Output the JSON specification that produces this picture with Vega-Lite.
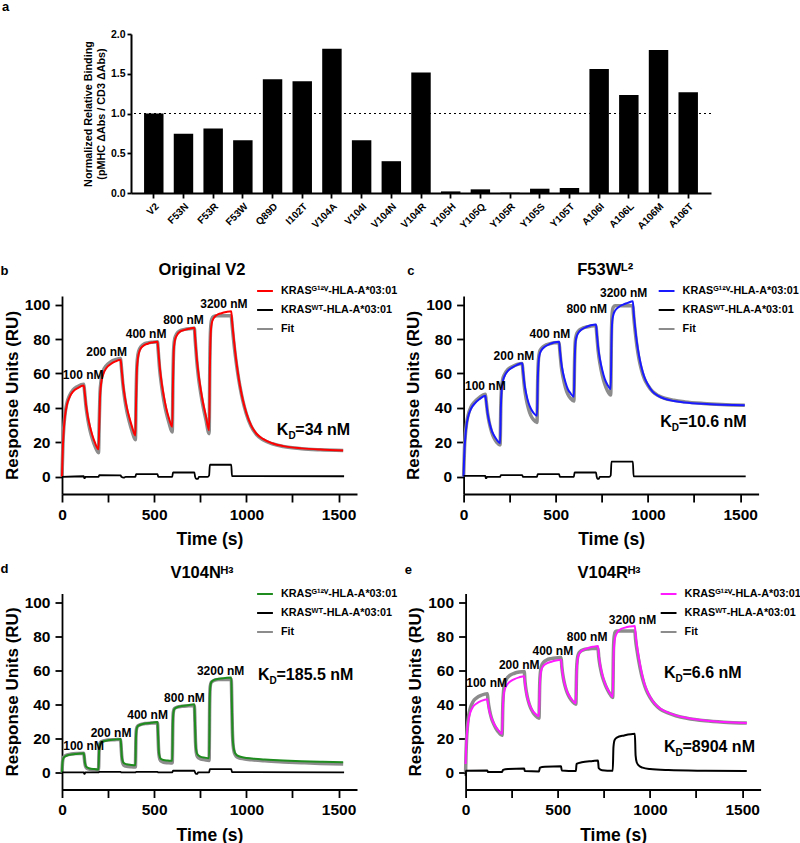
{
"$schema": "https://vega.github.io/schema/vega-lite/v6.json",
"padding": {"left": 0, "top": 1, "right": 0, "bottom": 0},
"background": "white",
"config": {
  "font": "Liberation Sans",
  "view": {"stroke": null},
  "axis": {"grid": false, "domainColor": "black", "domainWidth": 1.8, "tickColor": "black", "tickWidth": 1.8, "labelColor": "black", "titleColor": "black", "labelFontWeight": "bold", "titleFontWeight": "bold", "labelFont": "Liberation Sans", "titleFont": "Liberation Sans", "labelOverlap": false},
  "title": {"font": "Liberation Sans", "color": "black", "fontWeight": "bold", "frame": "group"},
  "text": {"font": "Liberation Sans", "color": "black", "fontWeight": "bold"},
  "legend": {"orient": "none", "legendX": 194, "title": null, "padding": 0, "symbolType": "stroke", "symbolSize": 250, "symbolStrokeWidth": 2, "labelFontSize": 10.8, "labelFontWeight": "bold", "labelColor": "black", "rowPadding": 5, "labelOffset": 7, "labelFont": "Liberation Sans"}
},
"datasets": {
"bars": [
{"m":"V2","v":1.0},{"m":"F53N","v":0.745},{"m":"F53R","v":0.81},{"m":"F53W","v":0.665},{"m":"Q89D","v":1.43},{"m":"I102T","v":1.405},{"m":"V104A","v":1.816},{"m":"V104I","v":0.665},{"m":"V104N","v":0.40},{"m":"V104R","v":1.515},{"m":"Y105H","v":0.02},{"m":"Y105Q","v":0.046},{"m":"Y105R","v":0.004},{"m":"Y105S","v":0.054},{"m":"Y105T","v":0.063},{"m":"A106I","v":1.56},{"m":"A106L","v":1.234},{"m":"A106M","v":1.80},{"m":"A106T","v":1.268}
],
"lab": [
{"p":"b","t":115,"v":59,"txt":"100 nM"},{"p":"b","t":242,"v":72.5,"txt":"200 nM"},{"p":"b","t":456,"v":82.8,"txt":"400 nM"},{"p":"b","t":659,"v":91,"txt":"800 nM"},{"p":"b","t":878,"v":100.6,"txt":"3200 nM"},
{"p":"c","t":118,"v":53,"txt":"100 nM"},{"p":"c","t":273,"v":70,"txt":"200 nM"},{"p":"c","t":468,"v":82.7,"txt":"400 nM"},{"p":"c","t":668,"v":97.7,"txt":"800 nM"},{"p":"c","t":868,"v":106.8,"txt":"3200 nM"},
{"p":"d","t":117,"v":15.6,"txt":"100 nM"},{"p":"d","t":266,"v":23.4,"txt":"200 nM"},{"p":"d","t":464,"v":34,"txt":"400 nM"},{"p":"d","t":664,"v":43.7,"txt":"800 nM"},{"p":"d","t":860,"v":59.4,"txt":"3200 nM"},
{"p":"e","t":114,"v":52.6,"txt":"100 nM"},{"p":"e","t":291,"v":63.2,"txt":"200 nM"},{"p":"e","t":473,"v":71.3,"txt":"400 nM"},{"p":"e","t":659,"v":79.3,"txt":"800 nM"},{"p":"e","t":905,"v":89.7,"txt":"3200 nM"}
],
"let": [
{"p":"b","t":-334,"v":119.8,"txt":"b"},{"p":"c","t":-305,"v":119.8,"txt":"c"},{"p":"d","t":-334,"v":119.1,"txt":"d"},{"p":"e","t":-330,"v":118.8,"txt":"e"}
],
"ttl": [
{"p":"b","t":759,"v":120.1,"txt":"Original V2"},{"p":"c","t":768,"v":120.1,"txt":"F53Wᴸ²"},{"p":"d","t":759,"v":117.3,"txt":"V104Nᴴ³"},{"p":"e","t":778,"v":117.3,"txt":"V104Rᴴ³"}
],
"kd": [
{"p":"b","t":1165,"v":27.1,"val":"=34 nM"},{"p":"c","t":1066,"v":31.8,"val":"=10.6 nM"},{"p":"d","t":1063,"v":57,"val":"=185.5 nM"},{"p":"e","t":1076,"v":58.4,"val":"=6.6 nM"},{"p":"e","t":1076,"v":14.9,"val":"=8904 nM"}
],
"b": [
{"s":"G","t":0,"v":0},{"s":"G","t":2,"v":8},{"s":"G","t":5,"v":18},{"s":"G","t":10,"v":28},{"s":"G","t":16,"v":35},{"s":"G","t":25,"v":41},{"s":"G","t":40,"v":46},{"s":"G","t":60,"v":49.5},{"s":"G","t":85,"v":51.5},{"s":"G","t":118,"v":53},
{"s":"G","t":122,"v":50},{"s":"G","t":130,"v":42},{"s":"G","t":140,"v":35},{"s":"G","t":152,"v":29},{"s":"G","t":165,"v":24},{"s":"G","t":180,"v":19.5},{"s":"G","t":198,"v":16},
{"s":"G","t":202,"v":30},{"s":"G","t":206,"v":46},{"s":"G","t":212,"v":54},{"s":"G","t":222,"v":59},{"s":"G","t":240,"v":63},{"s":"G","t":265,"v":65.5},{"s":"G","t":290,"v":67},{"s":"G","t":318,"v":68},
{"s":"G","t":322,"v":64},{"s":"G","t":330,"v":55},{"s":"G","t":340,"v":47},{"s":"G","t":352,"v":40},{"s":"G","t":365,"v":34.5},{"s":"G","t":380,"v":29},{"s":"G","t":398,"v":24},
{"s":"G","t":402,"v":45},{"s":"G","t":406,"v":62},{"s":"G","t":412,"v":69},{"s":"G","t":422,"v":73.5},{"s":"G","t":440,"v":76},{"s":"G","t":465,"v":77.3},{"s":"G","t":490,"v":78},{"s":"G","t":518,"v":78.5},
{"s":"G","t":522,"v":74},{"s":"G","t":530,"v":64},{"s":"G","t":540,"v":55},{"s":"G","t":552,"v":47},{"s":"G","t":565,"v":40},{"s":"G","t":580,"v":34},{"s":"G","t":598,"v":29},
{"s":"G","t":602,"v":55},{"s":"G","t":606,"v":73},{"s":"G","t":612,"v":79},{"s":"G","t":622,"v":82},{"s":"G","t":640,"v":84.3},{"s":"G","t":665,"v":85.3},{"s":"G","t":690,"v":86},{"s":"G","t":718,"v":86.5},
{"s":"G","t":722,"v":81},{"s":"G","t":730,"v":70},{"s":"G","t":740,"v":60},{"s":"G","t":752,"v":51},{"s":"G","t":765,"v":43},{"s":"G","t":780,"v":35.5},{"s":"G","t":798,"v":27},
{"s":"G","t":802,"v":62},{"s":"G","t":806,"v":82},{"s":"G","t":812,"v":89},{"s":"G","t":822,"v":92},{"s":"G","t":840,"v":94},{"s":"G","t":865,"v":95},{"s":"G","t":890,"v":95.7},{"s":"G","t":918,"v":96.2},
{"s":"G","t":922,"v":91},{"s":"G","t":930,"v":82},{"s":"G","t":940,"v":72},{"s":"G","t":952,"v":62},{"s":"G","t":965,"v":53},{"s":"G","t":980,"v":45},{"s":"G","t":1000,"v":37},{"s":"G","t":1025,"v":30},{"s":"G","t":1055,"v":25},{"s":"G","t":1090,"v":22},{"s":"G","t":1140,"v":19.5},{"s":"G","t":1200,"v":17.8},{"s":"G","t":1300,"v":16.5},{"s":"G","t":1400,"v":15.8},{"s":"G","t":1525,"v":15.3},
{"s":"F","t":0,"v":0},{"s":"F","t":5,"v":19},{"s":"F","t":10,"v":29},{"s":"F","t":16,"v":36},{"s":"F","t":25,"v":42},{"s":"F","t":40,"v":47},{"s":"F","t":60,"v":50.5},{"s":"F","t":85,"v":52.5},{"s":"F","t":118,"v":53.8},
{"s":"F","t":122,"v":50},{"s":"F","t":130,"v":41},{"s":"F","t":140,"v":33.5},{"s":"F","t":152,"v":27},{"s":"F","t":165,"v":22},{"s":"F","t":180,"v":17.5},{"s":"F","t":198,"v":14},
{"s":"F","t":202,"v":32},{"s":"F","t":206,"v":48},{"s":"F","t":212,"v":56},{"s":"F","t":222,"v":61},{"s":"F","t":240,"v":64.5},{"s":"F","t":265,"v":66.8},{"s":"F","t":290,"v":68},{"s":"F","t":318,"v":68.7},
{"s":"F","t":322,"v":64},{"s":"F","t":330,"v":54},{"s":"F","t":340,"v":45.5},{"s":"F","t":352,"v":38},{"s":"F","t":365,"v":32},{"s":"F","t":380,"v":26.5},{"s":"F","t":398,"v":21.5},
{"s":"F","t":402,"v":48},{"s":"F","t":406,"v":64},{"s":"F","t":412,"v":71},{"s":"F","t":422,"v":74.5},{"s":"F","t":440,"v":76.8},{"s":"F","t":465,"v":77.8},{"s":"F","t":490,"v":78.2},{"s":"F","t":518,"v":78.4},
{"s":"F","t":522,"v":73},{"s":"F","t":530,"v":62},{"s":"F","t":540,"v":53},{"s":"F","t":552,"v":44.5},{"s":"F","t":565,"v":37.5},{"s":"F","t":580,"v":31.5},{"s":"F","t":598,"v":26},
{"s":"F","t":602,"v":58},{"s":"F","t":606,"v":75},{"s":"F","t":612,"v":80.5},{"s":"F","t":622,"v":83},{"s":"F","t":640,"v":84.8},{"s":"F","t":665,"v":85.6},{"s":"F","t":690,"v":86},{"s":"F","t":718,"v":86.2},
{"s":"F","t":722,"v":80},{"s":"F","t":730,"v":68.5},{"s":"F","t":740,"v":58},{"s":"F","t":752,"v":49},{"s":"F","t":765,"v":41},{"s":"F","t":780,"v":33.5},{"s":"F","t":798,"v":25},
{"s":"F","t":802,"v":68},{"s":"F","t":806,"v":86},{"s":"F","t":812,"v":91.5},{"s":"F","t":822,"v":93},{"s":"F","t":840,"v":93.5},{"s":"F","t":918,"v":93.5},
{"s":"F","t":922,"v":89},{"s":"F","t":930,"v":80},{"s":"F","t":940,"v":70.5},{"s":"F","t":952,"v":61},{"s":"F","t":965,"v":52.5},{"s":"F","t":980,"v":44.5},{"s":"F","t":1000,"v":36.5},{"s":"F","t":1025,"v":29.5},{"s":"F","t":1055,"v":24.5},{"s":"F","t":1090,"v":21.5},{"s":"F","t":1140,"v":19.2},{"s":"F","t":1200,"v":17.6},{"s":"F","t":1300,"v":16.3},{"s":"F","t":1400,"v":15.7},{"s":"F","t":1525,"v":15.3},
{"s":"W","t":0,"v":0},{"s":"W","t":118,"v":0.3},{"s":"W","t":120,"v":-0.8},{"s":"W","t":124,"v":-0.8},{"s":"W","t":126,"v":0},{"s":"W","t":198,"v":0},{"s":"W","t":202,"v":1},{"s":"W","t":318,"v":0.8},{"s":"W","t":322,"v":0},{"s":"W","t":335,"v":-0.5},{"s":"W","t":345,"v":0},{"s":"W","t":398,"v":0},{"s":"W","t":402,"v":1.5},{"s":"W","t":518,"v":1.5},{"s":"W","t":522,"v":0},{"s":"W","t":598,"v":0},{"s":"W","t":602,"v":2.5},{"s":"W","t":718,"v":2.5},{"s":"W","t":722,"v":0},{"s":"W","t":728,"v":-1.2},{"s":"W","t":738,"v":-1.2},{"s":"W","t":742,"v":0},{"s":"W","t":790,"v":0},{"s":"W","t":798,"v":0.8},{"s":"W","t":802,"v":7},{"s":"W","t":918,"v":7},{"s":"W","t":922,"v":0.4},{"s":"W","t":1530,"v":0.3}
],
"c": [
{"s":"G","t":0,"v":0},{"s":"G","t":2,"v":8},{"s":"G","t":5,"v":16},{"s":"G","t":10,"v":24},{"s":"G","t":16,"v":30},{"s":"G","t":25,"v":35},{"s":"G","t":40,"v":39.5},{"s":"G","t":60,"v":42.5},{"s":"G","t":85,"v":45},{"s":"G","t":118,"v":47},
{"s":"G","t":122,"v":44},{"s":"G","t":130,"v":37},{"s":"G","t":140,"v":31.5},{"s":"G","t":152,"v":27},{"s":"G","t":165,"v":24},{"s":"G","t":180,"v":21.5},{"s":"G","t":198,"v":19.5},
{"s":"G","t":202,"v":40},{"s":"G","t":206,"v":50},{"s":"G","t":212,"v":55},{"s":"G","t":222,"v":58.5},{"s":"G","t":240,"v":61.5},{"s":"G","t":265,"v":63.5},{"s":"G","t":290,"v":65},{"s":"G","t":318,"v":66},
{"s":"G","t":322,"v":62},{"s":"G","t":330,"v":54},{"s":"G","t":340,"v":48},{"s":"G","t":352,"v":43},{"s":"G","t":365,"v":39.5},{"s":"G","t":380,"v":37},{"s":"G","t":398,"v":35.5},
{"s":"G","t":402,"v":55},{"s":"G","t":406,"v":66},{"s":"G","t":412,"v":71},{"s":"G","t":422,"v":73.5},{"s":"G","t":440,"v":75.5},{"s":"G","t":465,"v":77},{"s":"G","t":490,"v":78},{"s":"G","t":518,"v":78.5},
{"s":"G","t":522,"v":74},{"s":"G","t":530,"v":66},{"s":"G","t":540,"v":60},{"s":"G","t":552,"v":55},{"s":"G","t":565,"v":51},{"s":"G","t":580,"v":48.5},{"s":"G","t":598,"v":46.5},
{"s":"G","t":602,"v":65},{"s":"G","t":606,"v":77},{"s":"G","t":612,"v":81},{"s":"G","t":622,"v":83.5},{"s":"G","t":640,"v":85.5},{"s":"G","t":665,"v":87},{"s":"G","t":690,"v":88},{"s":"G","t":718,"v":88.5},
{"s":"G","t":722,"v":84},{"s":"G","t":730,"v":75},{"s":"G","t":740,"v":68},{"s":"G","t":752,"v":62},{"s":"G","t":765,"v":57},{"s":"G","t":780,"v":53.5},{"s":"G","t":798,"v":51},
{"s":"G","t":802,"v":78},{"s":"G","t":806,"v":90},{"s":"G","t":812,"v":94},{"s":"G","t":822,"v":96.5},{"s":"G","t":840,"v":98.5},{"s":"G","t":865,"v":100},{"s":"G","t":890,"v":101},{"s":"G","t":918,"v":102},
{"s":"G","t":922,"v":96},{"s":"G","t":930,"v":87},{"s":"G","t":940,"v":78},{"s":"G","t":952,"v":70},{"s":"G","t":965,"v":63.5},{"s":"G","t":980,"v":58},{"s":"G","t":1000,"v":53.5},{"s":"G","t":1025,"v":49.5},{"s":"G","t":1055,"v":47},{"s":"G","t":1090,"v":45.3},{"s":"G","t":1140,"v":44},{"s":"G","t":1200,"v":43.2},{"s":"G","t":1300,"v":42.4},{"s":"G","t":1400,"v":41.9},{"s":"G","t":1525,"v":41.5},
{"s":"F","t":0,"v":0},{"s":"F","t":5,"v":17},{"s":"F","t":10,"v":25},{"s":"F","t":16,"v":31},{"s":"F","t":25,"v":36},{"s":"F","t":40,"v":40.5},{"s":"F","t":60,"v":43.5},{"s":"F","t":85,"v":46},{"s":"F","t":118,"v":48},
{"s":"F","t":122,"v":44.5},{"s":"F","t":130,"v":37},{"s":"F","t":140,"v":31},{"s":"F","t":152,"v":26},{"s":"F","t":165,"v":22.5},{"s":"F","t":180,"v":20},{"s":"F","t":198,"v":18.5},
{"s":"F","t":202,"v":42},{"s":"F","t":206,"v":52},{"s":"F","t":212,"v":56.5},{"s":"F","t":222,"v":59.5},{"s":"F","t":240,"v":62.3},{"s":"F","t":265,"v":64},{"s":"F","t":290,"v":65.2},{"s":"F","t":318,"v":65.8},
{"s":"F","t":322,"v":61},{"s":"F","t":330,"v":52},{"s":"F","t":340,"v":45},{"s":"F","t":352,"v":39.5},{"s":"F","t":365,"v":35.5},{"s":"F","t":380,"v":33},{"s":"F","t":398,"v":31.5},
{"s":"F","t":402,"v":57},{"s":"F","t":406,"v":68},{"s":"F","t":412,"v":72.5},{"s":"F","t":422,"v":74.5},{"s":"F","t":440,"v":76.2},{"s":"F","t":465,"v":77.2},{"s":"F","t":490,"v":77.8},{"s":"F","t":518,"v":78},
{"s":"F","t":522,"v":73},{"s":"F","t":530,"v":64},{"s":"F","t":540,"v":57.5},{"s":"F","t":552,"v":52},{"s":"F","t":565,"v":48},{"s":"F","t":580,"v":45.5},{"s":"F","t":598,"v":44},
{"s":"F","t":602,"v":68},{"s":"F","t":606,"v":79},{"s":"F","t":612,"v":82.5},{"s":"F","t":622,"v":84.5},{"s":"F","t":640,"v":86},{"s":"F","t":665,"v":87},{"s":"F","t":690,"v":87.5},{"s":"F","t":718,"v":87.8},
{"s":"F","t":722,"v":83},{"s":"F","t":730,"v":73},{"s":"F","t":740,"v":65.5},{"s":"F","t":752,"v":59},{"s":"F","t":765,"v":54},{"s":"F","t":780,"v":50},{"s":"F","t":798,"v":47.5},
{"s":"F","t":802,"v":84},{"s":"F","t":806,"v":95},{"s":"F","t":812,"v":98.5},{"s":"F","t":822,"v":99.3},{"s":"F","t":918,"v":99.3},
{"s":"F","t":922,"v":94},{"s":"F","t":930,"v":85},{"s":"F","t":940,"v":76},{"s":"F","t":952,"v":68},{"s":"F","t":965,"v":62},{"s":"F","t":980,"v":57},{"s":"F","t":1000,"v":53},{"s":"F","t":1025,"v":49.5},{"s":"F","t":1055,"v":47.2},{"s":"F","t":1090,"v":45.6},{"s":"F","t":1140,"v":44.4},{"s":"F","t":1200,"v":43.5},{"s":"F","t":1300,"v":42.6},{"s":"F","t":1400,"v":42},{"s":"F","t":1525,"v":41.5},
{"s":"W","t":0,"v":0.5},{"s":"W","t":118,"v":0.5},{"s":"W","t":120,"v":-0.8},{"s":"W","t":124,"v":-0.8},{"s":"W","t":126,"v":0},{"s":"W","t":198,"v":0},{"s":"W","t":202,"v":1},{"s":"W","t":318,"v":1},{"s":"W","t":322,"v":0},{"s":"W","t":398,"v":0},{"s":"W","t":402,"v":1.5},{"s":"W","t":518,"v":1.5},{"s":"W","t":522,"v":0},{"s":"W","t":598,"v":0},{"s":"W","t":602,"v":2.5},{"s":"W","t":718,"v":2.5},{"s":"W","t":722,"v":0},{"s":"W","t":726,"v":-1.2},{"s":"W","t":734,"v":-1.2},{"s":"W","t":738,"v":0},{"s":"W","t":790,"v":0},{"s":"W","t":798,"v":0.8},{"s":"W","t":802,"v":8.8},{"s":"W","t":918,"v":8.8},{"s":"W","t":922,"v":0.3},{"s":"W","t":1530,"v":0.2}
],
"d": [
{"s":"G","t":0,"v":0},{"s":"G","t":2,"v":5},{"s":"G","t":5,"v":7.5},{"s":"G","t":10,"v":8.8},{"s":"G","t":20,"v":9.6},{"s":"G","t":40,"v":10.3},{"s":"G","t":70,"v":10.8},{"s":"G","t":100,"v":11.1},{"s":"G","t":118,"v":11.3},
{"s":"G","t":121,"v":9},{"s":"G","t":124,"v":6},{"s":"G","t":128,"v":4},{"s":"G","t":135,"v":3},{"s":"G","t":150,"v":2.3},{"s":"G","t":175,"v":2},{"s":"G","t":198,"v":1.8},
{"s":"G","t":201,"v":12},{"s":"G","t":204,"v":16},{"s":"G","t":210,"v":17.5},{"s":"G","t":225,"v":18.3},{"s":"G","t":250,"v":18.9},{"s":"G","t":285,"v":19.3},{"s":"G","t":318,"v":19.6},
{"s":"G","t":321,"v":15},{"s":"G","t":324,"v":10},{"s":"G","t":328,"v":7},{"s":"G","t":335,"v":5.5},{"s":"G","t":350,"v":4.8},{"s":"G","t":375,"v":4.4},{"s":"G","t":398,"v":4.2},
{"s":"G","t":401,"v":20},{"s":"G","t":404,"v":25},{"s":"G","t":410,"v":27},{"s":"G","t":425,"v":28},{"s":"G","t":450,"v":28.7},{"s":"G","t":485,"v":29.2},{"s":"G","t":518,"v":29.6},
{"s":"G","t":521,"v":22},{"s":"G","t":524,"v":14},{"s":"G","t":528,"v":10},{"s":"G","t":535,"v":8},{"s":"G","t":550,"v":7.3},{"s":"G","t":575,"v":7},{"s":"G","t":598,"v":6.8},
{"s":"G","t":601,"v":28},{"s":"G","t":604,"v":35},{"s":"G","t":610,"v":37.3},{"s":"G","t":625,"v":38.3},{"s":"G","t":650,"v":39},{"s":"G","t":685,"v":39.5},{"s":"G","t":718,"v":40},
{"s":"G","t":721,"v":30},{"s":"G","t":724,"v":19},{"s":"G","t":728,"v":13},{"s":"G","t":735,"v":10.5},{"s":"G","t":750,"v":9.3},{"s":"G","t":775,"v":8.7},{"s":"G","t":798,"v":8.3},
{"s":"G","t":801,"v":40},{"s":"G","t":804,"v":50},{"s":"G","t":810,"v":53},{"s":"G","t":825,"v":54.3},{"s":"G","t":850,"v":55},{"s":"G","t":885,"v":55.4},{"s":"G","t":918,"v":55.7},
{"s":"G","t":921,"v":42},{"s":"G","t":924,"v":26},{"s":"G","t":928,"v":17},{"s":"G","t":935,"v":12.5},{"s":"G","t":945,"v":10.5},{"s":"G","t":960,"v":9.5},{"s":"G","t":985,"v":8.8},{"s":"G","t":1030,"v":8.2},{"s":"G","t":1100,"v":7.6},{"s":"G","t":1200,"v":7},{"s":"G","t":1300,"v":6.6},{"s":"G","t":1400,"v":6.3},{"s":"G","t":1525,"v":6},
{"s":"F","t":0,"v":0},{"s":"F","t":3,"v":6},{"s":"F","t":6,"v":8.3},{"s":"F","t":12,"v":9.4},{"s":"F","t":25,"v":10.2},{"s":"F","t":50,"v":10.8},{"s":"F","t":85,"v":11.1},{"s":"F","t":118,"v":11.2},
{"s":"F","t":121,"v":8.5},{"s":"F","t":124,"v":5.5},{"s":"F","t":128,"v":3.5},{"s":"F","t":135,"v":2.4},{"s":"F","t":150,"v":1.8},{"s":"F","t":175,"v":1.6},{"s":"F","t":198,"v":1.5},
{"s":"F","t":201,"v":12.5},{"s":"F","t":204,"v":16.5},{"s":"F","t":210,"v":17.8},{"s":"F","t":225,"v":18.5},{"s":"F","t":250,"v":19},{"s":"F","t":285,"v":19.2},{"s":"F","t":318,"v":19.4},
{"s":"F","t":321,"v":14.5},{"s":"F","t":324,"v":9.5},{"s":"F","t":328,"v":6},{"s":"F","t":335,"v":4.3},{"s":"F","t":350,"v":3.6},{"s":"F","t":375,"v":3.3},{"s":"F","t":398,"v":3.2},
{"s":"F","t":401,"v":20.5},{"s":"F","t":404,"v":25.5},{"s":"F","t":410,"v":27.2},{"s":"F","t":425,"v":28.1},{"s":"F","t":450,"v":28.7},{"s":"F","t":485,"v":29},{"s":"F","t":518,"v":29.2},
{"s":"F","t":521,"v":21.5},{"s":"F","t":524,"v":13},{"s":"F","t":528,"v":9},{"s":"F","t":535,"v":6.8},{"s":"F","t":550,"v":6},{"s":"F","t":575,"v":5.7},{"s":"F","t":598,"v":5.5},
{"s":"F","t":601,"v":28.5},{"s":"F","t":604,"v":35.5},{"s":"F","t":610,"v":37.5},{"s":"F","t":625,"v":38.3},{"s":"F","t":650,"v":38.8},{"s":"F","t":685,"v":39.1},{"s":"F","t":718,"v":39.3},
{"s":"F","t":721,"v":29.5},{"s":"F","t":724,"v":18},{"s":"F","t":728,"v":12},{"s":"F","t":735,"v":9.2},{"s":"F","t":750,"v":8},{"s":"F","t":775,"v":7.4},{"s":"F","t":798,"v":7},
{"s":"F","t":801,"v":41},{"s":"F","t":804,"v":50.5},{"s":"F","t":810,"v":53},{"s":"F","t":825,"v":54},{"s":"F","t":850,"v":54.5},{"s":"F","t":918,"v":54.7},
{"s":"F","t":921,"v":41},{"s":"F","t":924,"v":25},{"s":"F","t":928,"v":16},{"s":"F","t":935,"v":11.5},{"s":"F","t":945,"v":9.5},{"s":"F","t":960,"v":8.6},{"s":"F","t":985,"v":8},{"s":"F","t":1030,"v":7.4},{"s":"F","t":1100,"v":6.8},{"s":"F","t":1200,"v":6.2},{"s":"F","t":1300,"v":5.7},{"s":"F","t":1400,"v":5.3},{"s":"F","t":1525,"v":5},
{"s":"W","t":0,"v":0},{"s":"W","t":118,"v":0},{"s":"W","t":120,"v":-0.8},{"s":"W","t":124,"v":-0.8},{"s":"W","t":126,"v":0},{"s":"W","t":198,"v":0},{"s":"W","t":202,"v":0.3},{"s":"W","t":318,"v":0.3},{"s":"W","t":322,"v":0},{"s":"W","t":398,"v":0},{"s":"W","t":402,"v":0.3},{"s":"W","t":518,"v":0.3},{"s":"W","t":522,"v":0},{"s":"W","t":598,"v":0},{"s":"W","t":602,"v":1},{"s":"W","t":718,"v":1},{"s":"W","t":722,"v":0},{"s":"W","t":726,"v":-0.8},{"s":"W","t":734,"v":-0.8},{"s":"W","t":738,"v":0},{"s":"W","t":798,"v":0},{"s":"W","t":802,"v":2},{"s":"W","t":918,"v":2},{"s":"W","t":922,"v":0.2},{"s":"W","t":1530,"v":0}
],
"e": [
{"s":"G","t":0,"v":5},{"s":"G","t":2,"v":12},{"s":"G","t":5,"v":19},{"s":"G","t":10,"v":26},{"s":"G","t":16,"v":31},{"s":"G","t":25,"v":35},{"s":"G","t":40,"v":38.5},{"s":"G","t":60,"v":40.5},{"s":"G","t":85,"v":42},{"s":"G","t":118,"v":43},
{"s":"G","t":122,"v":40},{"s":"G","t":130,"v":35.5},{"s":"G","t":140,"v":32},{"s":"G","t":152,"v":29},{"s":"G","t":165,"v":26.5},{"s":"G","t":180,"v":24.5},{"s":"G","t":198,"v":22.6},
{"s":"G","t":202,"v":38},{"s":"G","t":206,"v":45},{"s":"G","t":212,"v":48.5},{"s":"G","t":222,"v":51},{"s":"G","t":240,"v":53.2},{"s":"G","t":265,"v":54.8},{"s":"G","t":290,"v":55.8},{"s":"G","t":318,"v":56.5},
{"s":"G","t":322,"v":52},{"s":"G","t":330,"v":46.5},{"s":"G","t":340,"v":42},{"s":"G","t":352,"v":38.5},{"s":"G","t":365,"v":36},{"s":"G","t":380,"v":34.3},{"s":"G","t":398,"v":33},
{"s":"G","t":402,"v":50},{"s":"G","t":406,"v":57},{"s":"G","t":412,"v":60.5},{"s":"G","t":422,"v":62.5},{"s":"G","t":440,"v":64},{"s":"G","t":465,"v":65},{"s":"G","t":490,"v":65.7},{"s":"G","t":518,"v":66.1},
{"s":"G","t":522,"v":61.5},{"s":"G","t":530,"v":55.5},{"s":"G","t":540,"v":51},{"s":"G","t":552,"v":47},{"s":"G","t":565,"v":44.5},{"s":"G","t":580,"v":42.3},{"s":"G","t":598,"v":40.6},
{"s":"G","t":602,"v":58},{"s":"G","t":606,"v":65},{"s":"G","t":612,"v":68.5},{"s":"G","t":622,"v":70.5},{"s":"G","t":640,"v":72},{"s":"G","t":665,"v":73},{"s":"G","t":690,"v":73.7},{"s":"G","t":718,"v":74.2},
{"s":"G","t":722,"v":69.5},{"s":"G","t":730,"v":63},{"s":"G","t":740,"v":58},{"s":"G","t":752,"v":53.5},{"s":"G","t":765,"v":50},{"s":"G","t":780,"v":47},{"s":"G","t":798,"v":44.3},
{"s":"G","t":802,"v":66},{"s":"G","t":806,"v":75},{"s":"G","t":812,"v":79.5},{"s":"G","t":822,"v":82},{"s":"G","t":840,"v":84},{"s":"G","t":865,"v":85},{"s":"G","t":890,"v":85.6},{"s":"G","t":918,"v":86},
{"s":"G","t":922,"v":81},{"s":"G","t":930,"v":74},{"s":"G","t":940,"v":67},{"s":"G","t":952,"v":60},{"s":"G","t":965,"v":54},{"s":"G","t":980,"v":49},{"s":"G","t":1000,"v":44.5},{"s":"G","t":1025,"v":40.5},{"s":"G","t":1055,"v":37.5},{"s":"G","t":1090,"v":35.5},{"s":"G","t":1140,"v":33.5},{"s":"G","t":1200,"v":32},{"s":"G","t":1300,"v":30.5},{"s":"G","t":1400,"v":29.6},{"s":"G","t":1525,"v":29},
{"s":"F","t":0,"v":0},{"s":"F","t":2,"v":10},{"s":"F","t":5,"v":19},{"s":"F","t":10,"v":27},{"s":"F","t":16,"v":33},{"s":"F","t":25,"v":37.5},{"s":"F","t":40,"v":41.5},{"s":"F","t":60,"v":43.8},{"s":"F","t":85,"v":45.3},{"s":"F","t":118,"v":46.2},
{"s":"F","t":122,"v":42},{"s":"F","t":130,"v":36.5},{"s":"F","t":140,"v":32},{"s":"F","t":152,"v":28.5},{"s":"F","t":165,"v":25.8},{"s":"F","t":180,"v":23.5},{"s":"F","t":198,"v":21.8},
{"s":"F","t":202,"v":40},{"s":"F","t":206,"v":48},{"s":"F","t":212,"v":52},{"s":"F","t":222,"v":54.8},{"s":"F","t":240,"v":57},{"s":"F","t":265,"v":58.2},{"s":"F","t":290,"v":58.9},{"s":"F","t":318,"v":59.3},
{"s":"F","t":322,"v":53.5},{"s":"F","t":330,"v":47},{"s":"F","t":340,"v":42},{"s":"F","t":352,"v":38},{"s":"F","t":365,"v":35.3},{"s":"F","t":380,"v":33.2},{"s":"F","t":398,"v":31.8},
{"s":"F","t":402,"v":52},{"s":"F","t":406,"v":59},{"s":"F","t":412,"v":62.5},{"s":"F","t":422,"v":64.5},{"s":"F","t":440,"v":66},{"s":"F","t":465,"v":66.8},{"s":"F","t":490,"v":67.2},{"s":"F","t":518,"v":67.4},
{"s":"F","t":522,"v":62},{"s":"F","t":530,"v":55.5},{"s":"F","t":540,"v":50.5},{"s":"F","t":552,"v":46.5},{"s":"F","t":565,"v":43.8},{"s":"F","t":580,"v":41.6},{"s":"F","t":598,"v":40},
{"s":"F","t":602,"v":60},{"s":"F","t":606,"v":66.5},{"s":"F","t":612,"v":69.5},{"s":"F","t":622,"v":71},{"s":"F","t":640,"v":72},{"s":"F","t":665,"v":72.5},{"s":"F","t":690,"v":72.7},{"s":"F","t":718,"v":72.8},
{"s":"F","t":722,"v":68},{"s":"F","t":730,"v":62},{"s":"F","t":740,"v":57},{"s":"F","t":752,"v":53},{"s":"F","t":765,"v":49.5},{"s":"F","t":780,"v":46.5},{"s":"F","t":798,"v":44},
{"s":"F","t":802,"v":72},{"s":"F","t":806,"v":80},{"s":"F","t":812,"v":82.5},{"s":"F","t":822,"v":83},{"s":"F","t":918,"v":83},
{"s":"F","t":922,"v":78},{"s":"F","t":930,"v":71.5},{"s":"F","t":940,"v":65},{"s":"F","t":952,"v":58.5},{"s":"F","t":965,"v":53},{"s":"F","t":980,"v":48.3},{"s":"F","t":1000,"v":44},{"s":"F","t":1025,"v":40.2},{"s":"F","t":1055,"v":37.2},{"s":"F","t":1090,"v":35.2},{"s":"F","t":1140,"v":33.3},{"s":"F","t":1200,"v":31.8},{"s":"F","t":1300,"v":30.3},{"s":"F","t":1400,"v":29.5},{"s":"F","t":1525,"v":29},
{"s":"W","t":0,"v":-2},{"s":"W","t":2,"v":1},{"s":"W","t":118,"v":1.2},{"s":"W","t":121,"v":0.3},{"s":"W","t":198,"v":0.3},{"s":"W","t":203,"v":1.5},{"s":"W","t":230,"v":2},{"s":"W","t":318,"v":2.3},{"s":"W","t":321,"v":0.8},{"s":"W","t":398,"v":0.6},{"s":"W","t":403,"v":2.8},{"s":"W","t":430,"v":3.4},{"s":"W","t":518,"v":3.7},{"s":"W","t":521,"v":1.2},{"s":"W","t":598,"v":0.8},{"s":"W","t":602,"v":5},{"s":"W","t":630,"v":6},{"s":"W","t":690,"v":6.7},{"s":"W","t":718,"v":7},{"s":"W","t":722,"v":2.5},{"s":"W","t":740,"v":1.3},{"s":"W","t":798,"v":1},{"s":"W","t":802,"v":15},{"s":"W","t":808,"v":19},{"s":"W","t":820,"v":20.5},{"s":"W","t":860,"v":21.7},{"s":"W","t":918,"v":22.7},{"s":"W","t":922,"v":10},{"s":"W","t":928,"v":6},{"s":"W","t":940,"v":4},{"s":"W","t":960,"v":2.8},{"s":"W","t":1000,"v":2},{"s":"W","t":1100,"v":1.4},{"s":"W","t":1300,"v":1},{"s":"W","t":1525,"v":0.8}
]
},
"spacing": 31,
"vconcat": [
{
  "spacing": 19,
  "hconcat": [
    {
      "width": 1, "height": 159,
      "title": {"text": "a", "anchor": "start", "fontSize": 13, "dx": -60, "offset": 20},
      "data": {"values": [{"txt": ""}]},
      "mark": {"type": "text"},
      "encoding": {"text": {"field": "txt"}}
    },
    {
      "width": 580, "height": 159,
      "encoding": {
        "y": {"field": "v", "type": "quantitative", "scale": {"domain": [0, 2], "nice": false},
              "axis": {"values": [0, 0.5, 1, 1.5, 2], "format": ".1f", "title": ["Normalized Relative Binding", "(pMHC ΔAbs / CD3 ΔAbs)"], "titleFontSize": 10.8, "labelFontSize": 10.5, "tickSize": 4, "labelPadding": 2, "titlePadding": 4, "domainWidth": 2, "labelOverlap": false, "labelSeparation": 0}}
      },
      "layer": [
        {"data": {"name": "bars"}, "mark": {"type": "bar", "color": "black"},
         "encoding": {
           "x": {"field": "m", "type": "nominal", "sort": null, "scale": {"paddingInner": 0.345, "paddingOuter": 0.44},
                 "axis": {"title": null, "labelAngle": -45, "labelFontSize": 10, "tickSize": 5, "labelPadding": 3, "domainWidth": 2}}
         }},
        {"data": {"values": [{"v": 1}]}, "mark": {"type": "rule", "strokeDash": [2, 3], "color": "black", "strokeWidth": 1.2},
         "encoding": {}}
      ]
    }
  ]
},
{
  "spacing": 14.5,
  "vconcat": [
    {
      "spacing": 6.6,
      "resolve": {"scale": {"color": "independent", "x": "independent", "y": "independent"}, "legend": {"color": "independent"}},
      "hconcat": [
        {
          "width": 295, "height": 198,
          "encoding": {
            "x": {"field": "t", "type": "quantitative", "scale": {"domain": [0, 1600], "nice": false},
                  "axis": {"values": [0, 250, 500, 750, 1000, 1250, 1500], "format": "d", "labelExpr": "datum.value % 500 == 0 ? datum.label : ''", "title": "Time (s)", "labelFontSize": 15.5, "titleFontSize": 17.5, "tickSize": 8, "labelPadding": 5, "titlePadding": 8, "labelFlush": false}},
            "y": {"field": "v", "type": "quantitative", "scale": {"domain": [-10, 105], "nice": false},
                  "axis": {"values": [0, 20, 40, 60, 80, 100], "title": "Response Units (RU)", "labelFontSize": 15.5, "titleFontSize": 17, "tickSize": 7, "labelPadding": 5, "titlePadding": 3}}
          },
          "layer": [
            {"data": {"name": "b"}, "transform": [{"filter": "datum.s == 'F'"}], "mark": {"type": "line", "interpolate": "monotone", "strokeWidth": 3.5},
             "encoding": {"color": {"field": "s", "type": "nominal", "scale": {"domain": ["G", "W", "F"], "range": ["#ff0000", "#000000", "#8c8c8c"]},
               "legend": {"legendY": -14, "labelExpr": "datum.value == 'G' ? 'KRASᴳ¹²ⱽ-HLA-A*03:01' : datum.value == 'W' ? 'KRASᵂᵀ-HLA-A*03:01' : 'Fit'"}}}},
            {"data": {"name": "b"}, "transform": [{"filter": "datum.s == 'G'"}], "mark": {"type": "line", "interpolate": "monotone", "strokeWidth": 2},
             "encoding": {"color": {"field": "s", "type": "nominal"}}},
            {"data": {"name": "b"}, "transform": [{"filter": "datum.s == 'W'"}], "mark": {"type": "line", "interpolate": "monotone", "strokeWidth": 1.8},
             "encoding": {"color": {"field": "s", "type": "nominal"}}},
            {"data": {"name": "lab"}, "transform": [{"filter": "datum.p == 'b'"}], "mark": {"type": "text", "fontSize": 12, "baseline": "middle"}, "encoding": {"text": {"field": "txt"}}},
            {"data": {"name": "let"}, "transform": [{"filter": "datum.p == 'b'"}], "mark": {"type": "text", "fontSize": 13, "align": "left", "baseline": "middle"}, "encoding": {"text": {"field": "txt"}}},
            {"data": {"name": "ttl"}, "transform": [{"filter": "datum.p == 'b'"}], "mark": {"type": "text", "fontSize": 16.5, "baseline": "middle"}, "encoding": {"text": {"field": "txt"}}},
            {"data": {"name": "kd"}, "transform": [{"filter": "datum.p == 'b'"}], "mark": {"type": "text", "fontSize": 16, "align": "left", "baseline": "middle"}, "encoding": {"text": {"value": "K"}}},
            {"data": {"name": "kd"}, "transform": [{"filter": "datum.p == 'b'"}], "mark": {"type": "text", "fontSize": 10, "align": "left", "baseline": "middle", "dx": 11.6, "dy": 6}, "encoding": {"text": {"value": "D"}}},
            {"data": {"name": "kd"}, "transform": [{"filter": "datum.p == 'b'"}], "mark": {"type": "text", "fontSize": 16, "align": "left", "baseline": "middle", "dx": 18.5}, "encoding": {"text": {"field": "val"}}}
          ]
        },
        {
          "width": 295, "height": 198,
          "encoding": {
            "x": {"field": "t", "type": "quantitative", "scale": {"domain": [0, 1600], "nice": false},
                  "axis": {"values": [0, 250, 500, 750, 1000, 1250, 1500], "format": "d", "labelExpr": "datum.value % 500 == 0 ? datum.label : ''", "title": "Time (s)", "labelFontSize": 15.5, "titleFontSize": 17.5, "tickSize": 8, "labelPadding": 5, "titlePadding": 8, "labelFlush": false}},
            "y": {"field": "v", "type": "quantitative", "scale": {"domain": [-10, 105], "nice": false},
                  "axis": {"values": [0, 20, 40, 60, 80, 100], "title": "Response Units (RU)", "labelFontSize": 15.5, "titleFontSize": 17, "tickSize": 7, "labelPadding": 5, "titlePadding": 3}}
          },
          "layer": [
            {"data": {"name": "c"}, "transform": [{"filter": "datum.s == 'F'"}], "mark": {"type": "line", "interpolate": "monotone", "strokeWidth": 3.5},
             "encoding": {"color": {"field": "s", "type": "nominal", "scale": {"domain": ["G", "W", "F"], "range": ["#1a1aff", "#000000", "#8c8c8c"]},
               "legend": {"legendY": -14, "labelExpr": "datum.value == 'G' ? 'KRASᴳ¹²ⱽ-HLA-A*03:01' : datum.value == 'W' ? 'KRASᵂᵀ-HLA-A*03:01' : 'Fit'"}}}},
            {"data": {"name": "c"}, "transform": [{"filter": "datum.s == 'G'"}], "mark": {"type": "line", "interpolate": "monotone", "strokeWidth": 2},
             "encoding": {"color": {"field": "s", "type": "nominal"}}},
            {"data": {"name": "c"}, "transform": [{"filter": "datum.s == 'W'"}], "mark": {"type": "line", "interpolate": "monotone", "strokeWidth": 1.8},
             "encoding": {"color": {"field": "s", "type": "nominal"}}},
            {"data": {"name": "lab"}, "transform": [{"filter": "datum.p == 'c'"}], "mark": {"type": "text", "fontSize": 12, "baseline": "middle"}, "encoding": {"text": {"field": "txt"}}},
            {"data": {"name": "let"}, "transform": [{"filter": "datum.p == 'c'"}], "mark": {"type": "text", "fontSize": 13, "align": "left", "baseline": "middle"}, "encoding": {"text": {"field": "txt"}}},
            {"data": {"name": "ttl"}, "transform": [{"filter": "datum.p == 'c'"}], "mark": {"type": "text", "fontSize": 16.5, "baseline": "middle"}, "encoding": {"text": {"field": "txt"}}},
            {"data": {"name": "kd"}, "transform": [{"filter": "datum.p == 'c'"}], "mark": {"type": "text", "fontSize": 16, "align": "left", "baseline": "middle"}, "encoding": {"text": {"value": "K"}}},
            {"data": {"name": "kd"}, "transform": [{"filter": "datum.p == 'c'"}], "mark": {"type": "text", "fontSize": 10, "align": "left", "baseline": "middle", "dx": 11.6, "dy": 6}, "encoding": {"text": {"value": "D"}}},
            {"data": {"name": "kd"}, "transform": [{"filter": "datum.p == 'c'"}], "mark": {"type": "text", "fontSize": 16, "align": "left", "baseline": "middle", "dx": 18.5}, "encoding": {"text": {"field": "val"}}}
          ]
        }
      ]
    },
    {
      "spacing": 6.6,
      "resolve": {"scale": {"color": "independent", "x": "independent", "y": "independent"}, "legend": {"color": "independent"}},
      "hconcat": [
        {
          "width": 295, "height": 196,
          "encoding": {
            "x": {"field": "t", "type": "quantitative", "scale": {"domain": [0, 1600], "nice": false},
                  "axis": {"values": [0, 250, 500, 750, 1000, 1250, 1500], "format": "d", "labelExpr": "datum.value % 500 == 0 ? datum.label : ''", "title": "Time (s)", "labelFontSize": 15.5, "titleFontSize": 17.5, "tickSize": 8, "labelPadding": 5, "titlePadding": 8, "labelFlush": false}},
            "y": {"field": "v", "type": "quantitative", "scale": {"domain": [-10, 105], "nice": false},
                  "axis": {"values": [0, 20, 40, 60, 80, 100], "title": "Response Units (RU)", "labelFontSize": 15.5, "titleFontSize": 17, "tickSize": 7, "labelPadding": 5, "titlePadding": 3}}
          },
          "layer": [
            {"data": {"name": "d"}, "transform": [{"filter": "datum.s == 'F'"}], "mark": {"type": "line", "interpolate": "monotone", "strokeWidth": 3.5},
             "encoding": {"color": {"field": "s", "type": "nominal", "scale": {"domain": ["G", "W", "F"], "range": ["#1e8c1e", "#000000", "#8c8c8c"]},
               "legend": {"legendY": -8.5, "labelExpr": "datum.value == 'G' ? 'KRASᴳ¹²ⱽ-HLA-A*03:01' : datum.value == 'W' ? 'KRASᵂᵀ-HLA-A*03:01' : 'Fit'"}}}},
            {"data": {"name": "d"}, "transform": [{"filter": "datum.s == 'G'"}], "mark": {"type": "line", "interpolate": "monotone", "strokeWidth": 2},
             "encoding": {"color": {"field": "s", "type": "nominal"}}},
            {"data": {"name": "d"}, "transform": [{"filter": "datum.s == 'W'"}], "mark": {"type": "line", "interpolate": "monotone", "strokeWidth": 1.8},
             "encoding": {"color": {"field": "s", "type": "nominal"}}},
            {"data": {"name": "lab"}, "transform": [{"filter": "datum.p == 'd'"}], "mark": {"type": "text", "fontSize": 12, "baseline": "middle"}, "encoding": {"text": {"field": "txt"}}},
            {"data": {"name": "let"}, "transform": [{"filter": "datum.p == 'd'"}], "mark": {"type": "text", "fontSize": 13, "align": "left", "baseline": "middle"}, "encoding": {"text": {"field": "txt"}}},
            {"data": {"name": "ttl"}, "transform": [{"filter": "datum.p == 'd'"}], "mark": {"type": "text", "fontSize": 16.5, "baseline": "middle"}, "encoding": {"text": {"field": "txt"}}},
            {"data": {"name": "kd"}, "transform": [{"filter": "datum.p == 'd'"}], "mark": {"type": "text", "fontSize": 16, "align": "left", "baseline": "middle"}, "encoding": {"text": {"value": "K"}}},
            {"data": {"name": "kd"}, "transform": [{"filter": "datum.p == 'd'"}], "mark": {"type": "text", "fontSize": 10, "align": "left", "baseline": "middle", "dx": 11.6, "dy": 6}, "encoding": {"text": {"value": "D"}}},
            {"data": {"name": "kd"}, "transform": [{"filter": "datum.p == 'd'"}], "mark": {"type": "text", "fontSize": 16, "align": "left", "baseline": "middle", "dx": 18.5}, "encoding": {"text": {"field": "val"}}}
          ]
        },
        {
          "width": 295, "height": 196,
          "encoding": {
            "x": {"field": "t", "type": "quantitative", "scale": {"domain": [0, 1600], "nice": false},
                  "axis": {"values": [0, 250, 500, 750, 1000, 1250, 1500], "format": "d", "labelExpr": "datum.value % 500 == 0 ? datum.label : ''", "title": "Time (s)", "labelFontSize": 15.5, "titleFontSize": 17.5, "tickSize": 8, "labelPadding": 5, "titlePadding": 8, "labelFlush": false}},
            "y": {"field": "v", "type": "quantitative", "scale": {"domain": [-10, 105], "nice": false},
                  "axis": {"values": [0, 20, 40, 60, 80, 100], "title": "Response Units (RU)", "labelFontSize": 15.5, "titleFontSize": 17, "tickSize": 7, "labelPadding": 5, "titlePadding": 3}}
          },
          "layer": [
            {"data": {"name": "e"}, "transform": [{"filter": "datum.s == 'F'"}], "mark": {"type": "line", "interpolate": "monotone", "strokeWidth": 3.5},
             "encoding": {"color": {"field": "s", "type": "nominal", "scale": {"domain": ["G", "W", "F"], "range": ["#ff1aff", "#000000", "#8c8c8c"]},
               "legend": {"legendY": -8.5, "labelExpr": "datum.value == 'G' ? 'KRASᴳ¹²ⱽ-HLA-A*03:01' : datum.value == 'W' ? 'KRASᵂᵀ-HLA-A*03:01' : 'Fit'"}}}},
            {"data": {"name": "e"}, "transform": [{"filter": "datum.s == 'G'"}], "mark": {"type": "line", "interpolate": "monotone", "strokeWidth": 2},
             "encoding": {"color": {"field": "s", "type": "nominal"}}},
            {"data": {"name": "e"}, "transform": [{"filter": "datum.s == 'W'"}], "mark": {"type": "line", "interpolate": "monotone", "strokeWidth": 2},
             "encoding": {"color": {"field": "s", "type": "nominal"}}},
            {"data": {"name": "lab"}, "transform": [{"filter": "datum.p == 'e'"}], "mark": {"type": "text", "fontSize": 12, "baseline": "middle"}, "encoding": {"text": {"field": "txt"}}},
            {"data": {"name": "let"}, "transform": [{"filter": "datum.p == 'e'"}], "mark": {"type": "text", "fontSize": 13, "align": "left", "baseline": "middle"}, "encoding": {"text": {"field": "txt"}}},
            {"data": {"name": "ttl"}, "transform": [{"filter": "datum.p == 'e'"}], "mark": {"type": "text", "fontSize": 16.5, "baseline": "middle"}, "encoding": {"text": {"field": "txt"}}},
            {"data": {"name": "kd"}, "transform": [{"filter": "datum.p == 'e'"}], "mark": {"type": "text", "fontSize": 16, "align": "left", "baseline": "middle"}, "encoding": {"text": {"value": "K"}}},
            {"data": {"name": "kd"}, "transform": [{"filter": "datum.p == 'e'"}], "mark": {"type": "text", "fontSize": 10, "align": "left", "baseline": "middle", "dx": 11.6, "dy": 6}, "encoding": {"text": {"value": "D"}}},
            {"data": {"name": "kd"}, "transform": [{"filter": "datum.p == 'e'"}], "mark": {"type": "text", "fontSize": 16, "align": "left", "baseline": "middle", "dx": 18.5}, "encoding": {"text": {"field": "val"}}}
          ]
        }
      ]
    }
  ]
}
]
}
